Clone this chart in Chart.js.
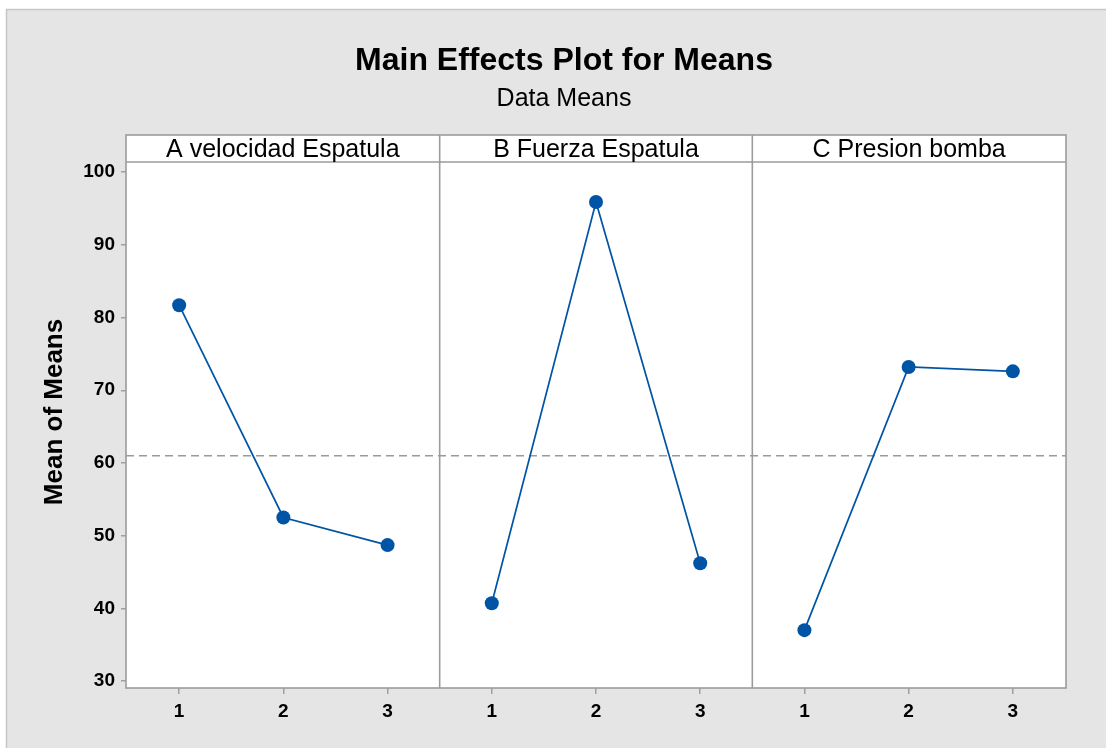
<!DOCTYPE html>
<html>
<head>
<meta charset="utf-8">
<script src="https://cdn.jsdelivr.net/npm/chart.js@4.4.1/dist/chart.umd.min.js"></script>
<style>
  html, body { margin: 0; padding: 0; background: #ffffff; }
  #wrap { width: 1106px; height: 748px; }
</style>
</head>
<body>
<div id="wrap"><canvas id="effects" width="1106" height="748"></canvas></div>
<script>
// data
const factors = ['A velocidad Espatula', 'B Fuerza Espatula', 'C Presion bomba'];
const levels = ['1', '2', '3'];
const meansA = [81.7, 52.5, 48.7];
const meansB = [40.7, 95.9, 46.2];
const meansC = [37.0, 73.2, 72.6];
const grandMean = 61.0;
const yTicks = [30, 40, 50, 60, 70, 80, 90, 100];

const FONT = "'Liberation Sans', Arial, sans-serif";
const BLUE = '#0054a6';
const FRAME = '#9c9c9c';
const HEADER_H = 27;

const panels = [meansA, meansB, meansC];
const nLev = levels.length;
const xMin = 0.49;
const xMax = panels.length * nLev + 0.51;

const xTicks = [];
panels.forEach((p, i) => levels.forEach((l, j) => xTicks.push(i * nLev + j + 1)));

const datasets = panels.map((vals, i) => ({
    data: vals.map((v, j) => ({ x: i * nLev + j + 1, y: v })),
    borderColor: BLUE,
    backgroundColor: BLUE,
    borderWidth: 1.7,
    pointRadius: 7,
    pointHoverRadius: 7,
    pointBorderWidth: 0,
    showLine: true,
    order: 0
}));

datasets.push({
    data: [{ x: xMin, y: grandMean }, { x: xMax, y: grandMean }],
    borderColor: '#9a9a9a',
    borderWidth: 1.6,
    borderDash: [8, 5],
    pointRadius: 0,
    showLine: true,
    order: 1
});

const framePlugin = {
    id: 'frame',
    beforeDraw(chart) {
        const ctx = chart.ctx;
        const w = chart.width, h = chart.height;
        const a = chart.chartArea;
        ctx.save();
        ctx.fillStyle = '#ffffff';
        ctx.fillRect(0, 0, w, h);
        ctx.fillStyle = '#e5e5e5';
        ctx.fillRect(6, 9, w - 6, h - 9);
        ctx.strokeStyle = '#c6c6c6';
        ctx.lineWidth = 1.5;
        ctx.beginPath();
        ctx.moveTo(6.5, h);
        ctx.lineTo(6.5, 9.5);
        ctx.lineTo(w, 9.5);
        ctx.stroke();
        ctx.fillStyle = '#ffffff';
        ctx.fillRect(a.left, a.top - HEADER_H, a.right - a.left, a.bottom - a.top + HEADER_H);
        ctx.restore();
    },
    afterDraw(chart) {
        const ctx = chart.ctx;
        const a = chart.chartArea;
        const xs = chart.scales.x;
        ctx.save();
        ctx.strokeStyle = FRAME;
        ctx.lineWidth = 1.6;
        ctx.strokeRect(a.left, a.top - HEADER_H, a.right - a.left, a.bottom - a.top + HEADER_H);
        ctx.beginPath();
        ctx.moveTo(a.left, a.top);
        ctx.lineTo(a.right, a.top);
        for (let i = 1; i < panels.length; i++) {
            const px = xs.getPixelForValue(i * nLev + 0.5);
            ctx.moveTo(px, a.top - HEADER_H);
            ctx.lineTo(px, a.bottom);
        }
        ctx.stroke();

        // panel headers
        ctx.fillStyle = '#000';
        ctx.textAlign = 'center';
        ctx.textBaseline = 'middle';
        ctx.font = '25px ' + FONT;
        factors.forEach((f, i) => {
            const l = i === 0 ? a.left : xs.getPixelForValue(i * nLev + 0.5);
            const r = i === factors.length - 1 ? a.right : xs.getPixelForValue((i + 1) * nLev + 0.5);
            ctx.fillText(f, (l + r) / 2, a.top - HEADER_H / 2 + 2);
        });

        // titles
        ctx.font = 'bold 32px ' + FONT;
        ctx.fillText('Main Effects Plot for Means', 564, 61);
        ctx.font = '25px ' + FONT;
        ctx.fillText('Data Means', 564, 99);

        // y axis title
        ctx.translate(55, 412);
        ctx.rotate(-Math.PI / 2);
        ctx.font = 'bold 26px ' + FONT;
        ctx.fillText('Mean of Means', 0, 0);
        ctx.restore();
    }
};

new Chart(document.getElementById('effects').getContext('2d'), {
    type: 'scatter',
    data: { datasets: datasets },
    plugins: [framePlugin],
    options: {
        responsive: false,
        devicePixelRatio: 1,
        animation: false,
        layout: { padding: { top: 162, right: 40, bottom: 0, left: 0 } },
        plugins: {
            legend: { display: false },
            tooltip: { enabled: false }
        },
        scales: {
            x: {
                type: 'linear',
                min: xMin,
                max: xMax,
                afterBuildTicks: scale => { scale.ticks = xTicks.map(v => ({ value: v })); },
                afterFit: scale => { scale.height = 60; },
                ticks: {
                    autoSkip: false,
                    maxRotation: 0,
                    padding: 6,
                    color: '#000',
                    font: { family: FONT, size: 19, weight: 'bold' },
                    callback: (value, index) => levels[index % nLev]
                },
                grid: { drawOnChartArea: false, drawTicks: true, tickLength: 6, color: '#a0a0a0', lineWidth: 1.5 },
                border: { display: false }
            },
            y: {
                min: 29.04,
                max: 101.4,
                afterBuildTicks: scale => { scale.ticks = yTicks.map(v => ({ value: v })); },
                afterFit: scale => { scale.width = 126; },
                ticks: {
                    padding: 6,
                    color: '#000',
                    font: { family: FONT, size: 19, weight: 'bold' }
                },
                grid: { drawOnChartArea: false, drawTicks: true, tickLength: 5, color: '#a0a0a0', lineWidth: 1.5 },
                border: { display: false }
            }
        }
    }
});
</script>
</body>
</html>
